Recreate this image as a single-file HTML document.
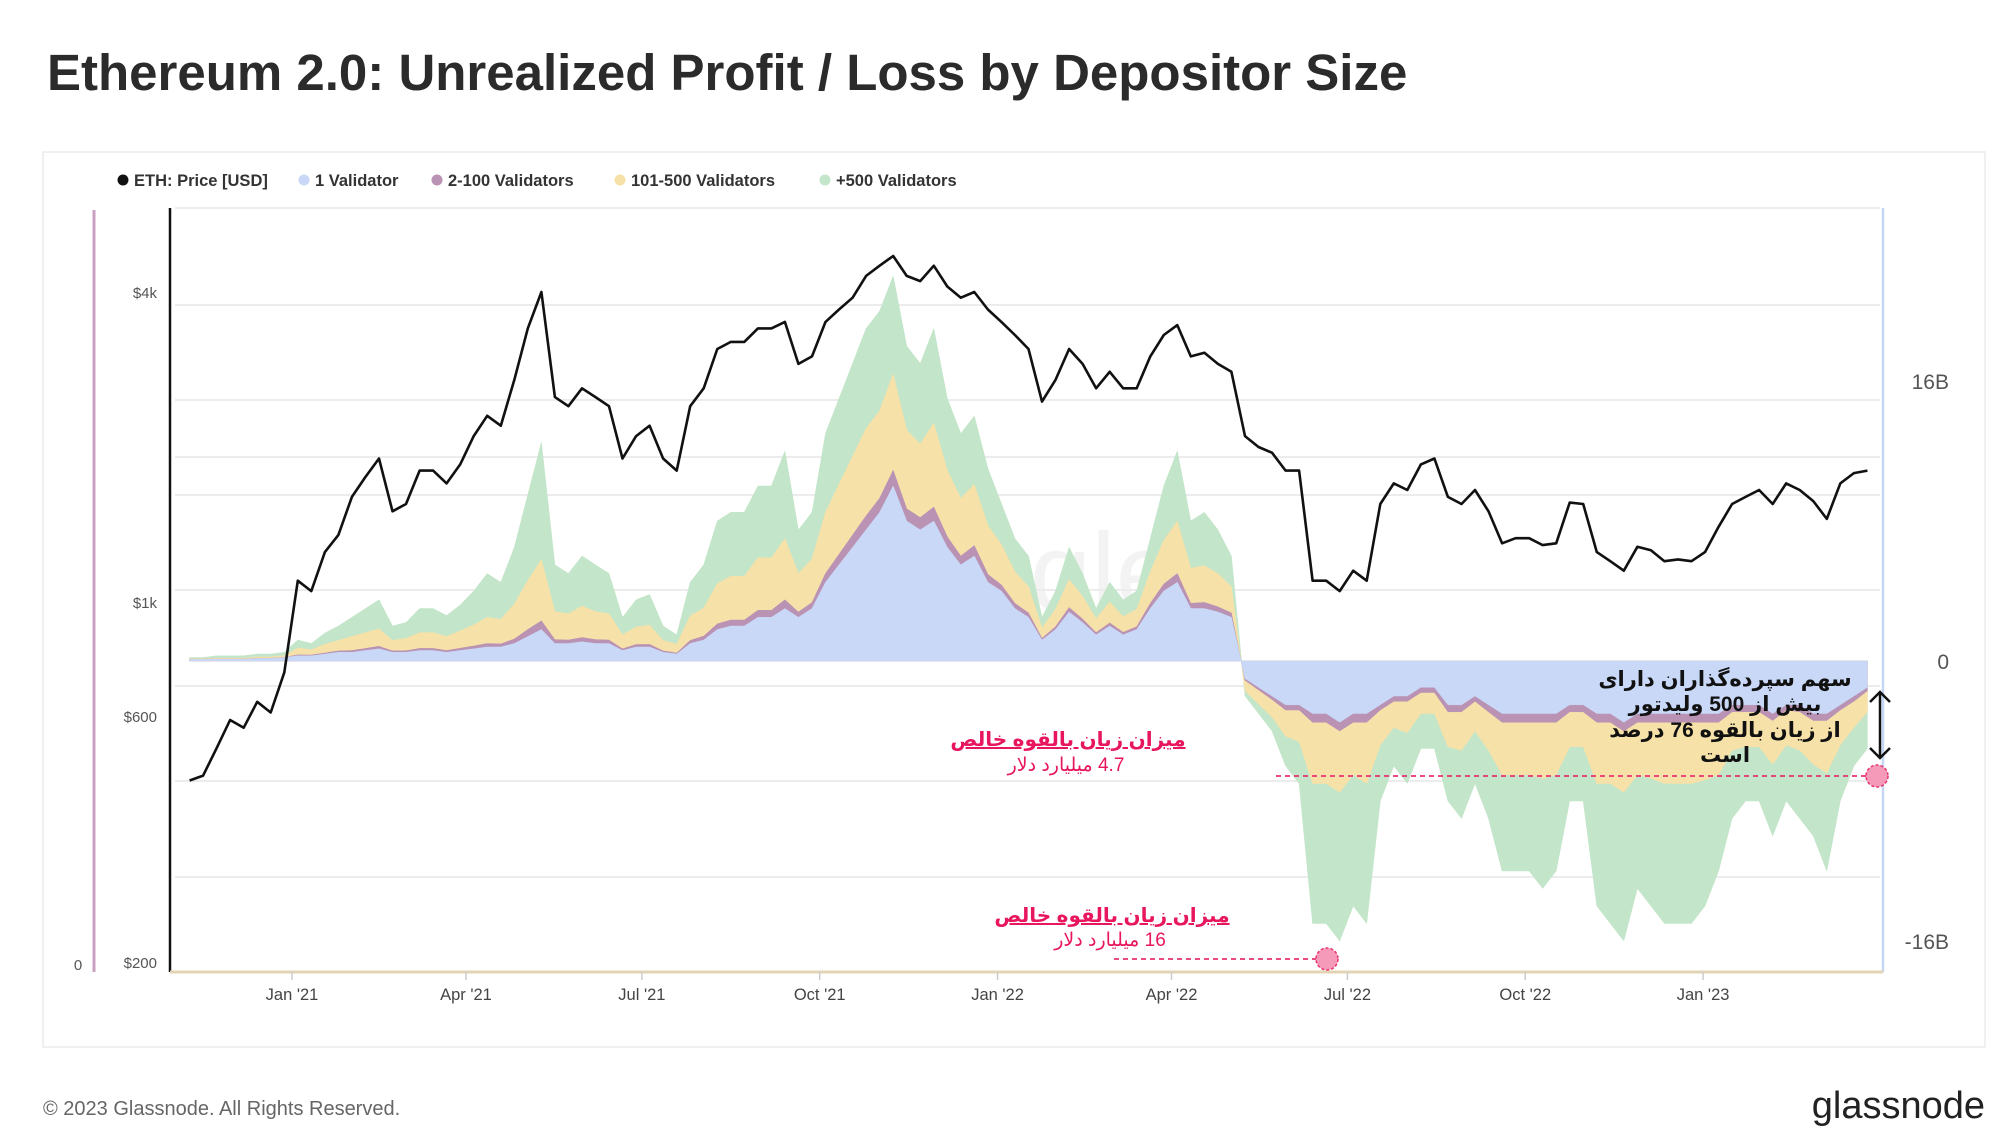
<!DOCTYPE html>
<html><head><meta charset="utf-8">
<style>
html,body{margin:0;padding:0;background:#fff;}
body{width:2000px;height:1127px;overflow:hidden;position:relative;font-family:"Liberation Sans",sans-serif;}
svg{position:absolute;left:0;top:0;}
</style></head>
<body>
<svg id="chart" width="2000" height="1127" viewBox="0 0 2000 1127">
  <text x="47" y="90" font-size="51" font-weight="bold" fill="#2b2b2b" font-family="Liberation Sans, sans-serif">Ethereum 2.0: Unrealized Profit / Loss by Depositor Size</text>
  <rect x="43" y="152" width="1942" height="895" fill="#fff" stroke="#ececec" stroke-width="1.5"/>
  <g id="legend"></g>
  <g id="grid"></g>
  <text x="1030" y="610" font-size="110" fill="#ececec" opacity="0.6" font-family="Liberation Sans, sans-serif">gle</text>
  <g id="areas"></g>
  <g id="price"></g>
  <line x1="94" y1="210" x2="94" y2="972" stroke="#c9a0c0" stroke-width="3"/>
  <line x1="170" y1="208" x2="170" y2="972" stroke="#111" stroke-width="2.5"/>
  <line x1="1883" y1="208" x2="1883" y2="972" stroke="#c5d6f5" stroke-width="2.5"/>
  <line x1="170" y1="972" x2="1883" y2="972" stroke="#e3d3b5" stroke-width="3"/>
  <g id="axes"></g>
  <g id="annot">
    <line x1="1276" y1="776" x2="1866" y2="776" stroke="#e8336f" stroke-width="1.8" stroke-dasharray="5,4"/>
    <circle cx="1877" cy="776" r="11" fill="#f59ab8" stroke="#e8336f" stroke-width="1.5" stroke-dasharray="3,2"/>
    <line x1="1114" y1="959" x2="1316" y2="959" stroke="#e8336f" stroke-width="1.8" stroke-dasharray="5,4"/>
    <circle cx="1327" cy="959" r="11" fill="#f59ab8" stroke="#e8336f" stroke-width="1.5" stroke-dasharray="3,2"/>
    <text x="1068" y="746" font-size="20" font-weight="bold" fill="#e8155f" text-anchor="middle" text-decoration="underline" font-family="Liberation Sans, DejaVu Sans, sans-serif" direction="rtl">میزان زیان بالقوه خالص</text>
    <text x="1066" y="771" font-size="19" fill="#e8155f" text-anchor="middle" font-family="Liberation Sans, DejaVu Sans, sans-serif" direction="rtl">4.7 میلیارد دلار</text>
    <text x="1112" y="922" font-size="20" font-weight="bold" fill="#e8155f" text-anchor="middle" text-decoration="underline" font-family="Liberation Sans, DejaVu Sans, sans-serif" direction="rtl">میزان زیان بالقوه خالص</text>
    <text x="1110" y="946" font-size="19" fill="#e8155f" text-anchor="middle" font-family="Liberation Sans, DejaVu Sans, sans-serif" direction="rtl">16 میلیارد دلار</text>
    <g font-size="21" font-weight="bold" fill="#111" text-anchor="middle" font-family="Liberation Sans, DejaVu Sans, sans-serif">
      <text x="1725" y="686" direction="rtl">سهم سپرده‌گذاران دارای</text>
      <text x="1725" y="711" direction="rtl">بیش از 500 ولیدتور</text>
      <text x="1725" y="737" direction="rtl">از زیان بالقوه 76 درصد</text>
      <text x="1725" y="762" direction="rtl">است</text>
    </g>
    <g stroke="#111" stroke-width="2.5" fill="none">
      <line x1="1880" y1="692" x2="1880" y2="758"/>
      <polyline points="1870,702 1880,692 1890,702"/>
      <polyline points="1870,748 1880,758 1890,748"/>
    </g>
  </g>
  <text x="43" y="1115" font-size="20" fill="#666" font-family="Liberation Sans, sans-serif">© 2023 Glassnode. All Rights Reserved.</text>
  <text x="1985" y="1118" font-size="38" fill="#222" text-anchor="end" font-family="Liberation Sans, sans-serif">glassnode</text>
</svg>
<script>
const startDate = "2020-11-09";
const priceUSD = [450,460,520,590,570,640,610,730,
1100,1050,1250,1350,1600,1750,1900,1500,1550,1800,1800,1700,1850,
2100,2300,2200,2700,3400,4000,2500,2400,2600,2500,2400,1900,2100,
2200,1900,1800,2400,2600,3100,3200,3200,3400,3400,3500,2900,3000,
3500,3700,3900,4300,4500,4700,4300,4200,4500,4100,3900,4000,3700,
3500,3300,3100,2450,2700,3100,2900,2600,2800,2600,2600,3000,3300,
3450,3000,3050,2900,2800,2100,2000,1950,1800,1800,1100,1100,1050,
1150,1100,1550,1700,1650,1850,1900,1600,1550,1650,1500,1300,1330,
1330,1290,1300,1560,1550,1250,1200,1150,1280,1260,1200,1210,1200,
1250,1400,1550,1600,1650,1550,1700,1650,1570,1450,1700,1780,1800];
const oneValidator = [.1,.1,.1,.1,.1,.15,.15,.2,
.3,.3,.4,.5,.5,.6,.7,.5,.5,.6,.6,.5,.6,
.7,.8,.8,1.0,1.4,1.8,1.0,1.0,1.1,1.0,1.0,.6,.8,
.8,.5,.4,1.0,1.2,1.8,2.0,2.0,2.5,2.5,3.0,2.5,3.0,
4.5,5.5,6.5,7.5,8.5,10,8,7.5,8,6.5,5.5,6,4.5,
4,3,2.5,1.2,1.8,2.8,2.2,1.5,2,1.5,1.8,3,4,
4.5,3,3,2.8,2.5,-1,-1.5,-2,-2.5,-2.5,-3,-3,-3.5,
-3,-3,-2.5,-2,-2,-1.5,-1.5,-2.5,-2.5,-2,-2.5,-3,-3,
-3,-3,-3,-2.5,-2.5,-3,-3,-3.5,-3,-3,-3,-3,-3,
-3,-3,-2.5,-2.5,-2.5,-3,-2.5,-2.5,-3,-3,-2.5,-2,-1.5];
const validators2to100 = [.01,.01,.01,.01,.01,.01,.01,.01,
.05,.04,.06,.08,.1,.12,.14,.08,.09,.12,.12,.1,.13,
.16,.2,.18,.26,.4,.5,.22,.2,.24,.22,.2,.1,.14,
.15,.08,.06,.18,.22,.32,.34,.34,.4,.4,.5,.3,.34,
.5,.6,.7,.8,.8,.9,.7,.7,.8,.6,.5,.6,.45,
.35,.3,.25,.1,.16,.26,.2,.12,.18,.14,.16,.3,.4,
.5,.3,.35,.3,.25,-.1,-.15,-.2,-.3,-.3,-.5,-.5,-.5,
-.5,-.5,-.3,-.3,-.3,-.3,-.3,-.4,-.4,-.3,-.4,-.5,-.5,
-.5,-.5,-.5,-.4,-.4,-.5,-.5,-.5,-.5,-.5,-.5,-.5,-.5,
-.5,-.5,-.4,-.4,-.4,-.4,-.3,-.4,-.4,-.4,-.3,-.3,-.2];
const validators101to500 = [.03,.03,.05,.05,.05,.08,.08,.1,
.4,.3,.5,.6,.8,.9,1.0,.6,.7,.9,.9,.8,1.0,
1.2,1.5,1.4,2.0,2.8,3.5,1.6,1.5,1.8,1.6,1.5,.8,1.0,
1.1,.6,.5,1.4,1.6,2.3,2.5,2.5,3.0,3.0,3.5,2.2,2.5,
3.5,4.0,4.5,5.0,5.0,5.5,4.5,4.2,4.8,3.8,3.3,3.5,2.8,
2.3,1.8,1.5,.6,1.0,1.6,1.3,.8,1.2,.9,1.0,1.8,2.5,
3.0,2.0,2.1,1.9,1.5,-.6,-.8,-1,-1.5,-1.8,-3.5,-3.5,-3.5,
-3,-3.5,-2,-1.5,-1.8,-1.2,-1.2,-2,-2.2,-1.7,-2.2,-3,-3,
-3,-3.2,-3,-2,-2,-3.5,-3.5,-3.5,-3,-3.2,-3.5,-3.5,-3.5,
-3.3,-3,-2.2,-2,-2,-2.5,-2,-2.2,-2.5,-3,-2,-1.5,-1.2];
const validators500plus = [.06,.06,.14,.14,.14,.16,.16,.19,
.45,.36,.64,.82,1.1,1.38,1.66,.82,.91,1.38,1.38,1.2,1.47,
1.94,2.5,2.12,3.24,4.9,6.7,2.68,2.3,2.86,2.68,2.3,1.0,1.56,
1.75,.82,.54,1.92,2.48,3.58,3.66,3.66,4.1,4.1,5.0,2.5,2.66,
4.5,4.9,5.3,5.7,5.7,5.6,4.8,4.6,5.4,4.1,3.7,3.9,3.25,
2.35,1.9,1.75,.6,1.04,1.84,1.3,.58,1.12,.96,1.04,1.9,3.1,
4,2.7,3.05,2.5,1.75,-.3,-.55,-.8,-1.7,-2.4,-8,-8,-8.5,
-7.5,-8,-3.2,-2.2,-2.9,-2,-2,-3.1,-3.9,-3,-3.9,-5.5,-5.5,
-5.5,-6.3,-5.5,-3.1,-3.1,-7,-8,-8.5,-6.5,-7.3,-8,-8,-8,
-7.2,-5.5,-3.9,-3.1,-3.1,-4.1,-3.2,-3.9,-4.1,-5.6,-3.2,-2.2,-2.1];
const xTickLabels = ["Jan '21","Apr '21","Jul '21","Oct '21","Jan '22","Apr '22","Jul '22","Oct '22","Jan '23"];
const xTickDates = ["2021-01-01","2021-04-01","2021-07-01","2021-10-01","2022-01-01","2022-04-01","2022-07-01","2022-10-01","2023-01-01"];
const priceTickLabels = ["$4k","$1k","$600","$200"];
const priceTickValues = [4000,1000,600,200];
const plTickLabels = ["16B","0","-16B"];
const plTickValues = [16,0,-16];

const NS="http://www.w3.org/2000/svg";
const DAY=86400000, ref=Date.parse("2021-01-01");
function xDate(s){return 292+(Date.parse(s)-ref)/DAY*1.933;}
function xIdx(i){return 292+((Date.parse(startDate)-ref)/DAY+i*7)*1.933;}
function yPrice(p){return 602-Math.log(p/1000)*223.6;}
function yPL(b){return 661-b*17.5;}
function mk(tag,attrs,parent){const e=document.createElementNS(NS,tag);for(const k in attrs)e.setAttribute(k,attrs[k]);parent.appendChild(e);return e;}

const grid=document.getElementById('grid');
[208,305,400,457,495,590,686,781,877].forEach(y=>{
  const l=mk('line',{x1:175,x2:1880,y1:y,y2:y,stroke:'#e6e6e6','stroke-width':1.5},grid);
  
  
});

const areas=document.getElementById('areas');
const n=priceUSD.length;
const c1=[],c2=[],c3=[],c4=[];
for(let i=0;i<n;i++){c1.push(oneValidator[i]);c2.push(c1[i]+validators2to100[i]);c3.push(c2[i]+validators101to500[i]);c4.push(c3[i]+validators500plus[i]);}
function areaPath(c){let d='M'+xIdx(0)+','+yPL(0);for(let i=0;i<n;i++)d+=' L'+xIdx(i).toFixed(1)+','+yPL(c[i]).toFixed(1);d+=' L'+xIdx(n-1)+','+yPL(0)+' Z';return d;}
const layers=[[c4,'#c3e5c9','area-500plus-validators'],[c3,'#f6e1a9','area-101-500-validators'],[c2,'#b992b4','area-2-100-validators'],[c1,'#c8d8f6','area-1-validator']];
layers.forEach(([c,col,name])=>{
  const p=mk('path',{d:areaPath(c),fill:col,stroke:col,'stroke-width':0.5},areas);
  
  
});

const pg=document.getElementById('price');
let pd='';
for(let i=0;i<n;i++)pd+=(i?' L':'M')+xIdx(i).toFixed(1)+','+yPrice(priceUSD[i]).toFixed(1);
const pl=mk('path',{d:pd,fill:'none',stroke:'#111','stroke-width':2.6,'stroke-linejoin':'round'},pg);



const ax=document.getElementById('axes');
xTickLabels.forEach((t,i)=>{
  const x=xDate(xTickDates[i]);
  const tk=mk('line',{x1:x,x2:x,y1:972,y2:980,stroke:'#ccc','stroke-width':1.5},ax);
  
  
  const tx=mk('text',{x:x,y:1000,'font-size':16.5,fill:'#444','text-anchor':'middle','font-family':'Liberation Sans, sans-serif'},ax);
  tx.textContent=t;
  
  
});
priceTickLabels.forEach((t,i)=>{
  const tx=mk('text',{x:157,y:yPrice(priceTickValues[i])+6,'font-size':15,fill:'#555','text-anchor':'end','font-family':'Liberation Sans, sans-serif'},ax);
  tx.textContent=t;
  
  
});
plTickLabels.forEach((t,i)=>{
  const tx=mk('text',{x:1949,y:yPL(plTickValues[i])+8,'font-size':21,fill:'#555','text-anchor':'end','font-family':'Liberation Sans, sans-serif'},ax);
  tx.textContent=t;
  
  
});
const z=mk('text',{x:78,y:970,'font-size':15,fill:'#555','text-anchor':'middle','font-family':'Liberation Sans, sans-serif'},ax);
z.textContent='0';



const lg=document.getElementById('legend');
const legendNames=["ETH: Price [USD]","1 Validator","2-100 Validators","101-500 Validators","+500 Validators"];
const legendColors=["#111","#c8d8f6","#b992b4","#f6e1a9","#c3e5c9"];
const legendX=[123,304,437,620,825];
legendNames.forEach((t,i)=>{
  const g=mk('g',{},lg);
  
  
  mk('circle',{cx:legendX[i],cy:180,r:5.5,fill:legendColors[i]},g);
  const tx=mk('text',{x:legendX[i]+11,y:186,'font-size':16.5,'font-weight':'bold',fill:'#333','font-family':'Liberation Sans, sans-serif'},g);
  tx.textContent=t;
});
</script>
</body></html>
